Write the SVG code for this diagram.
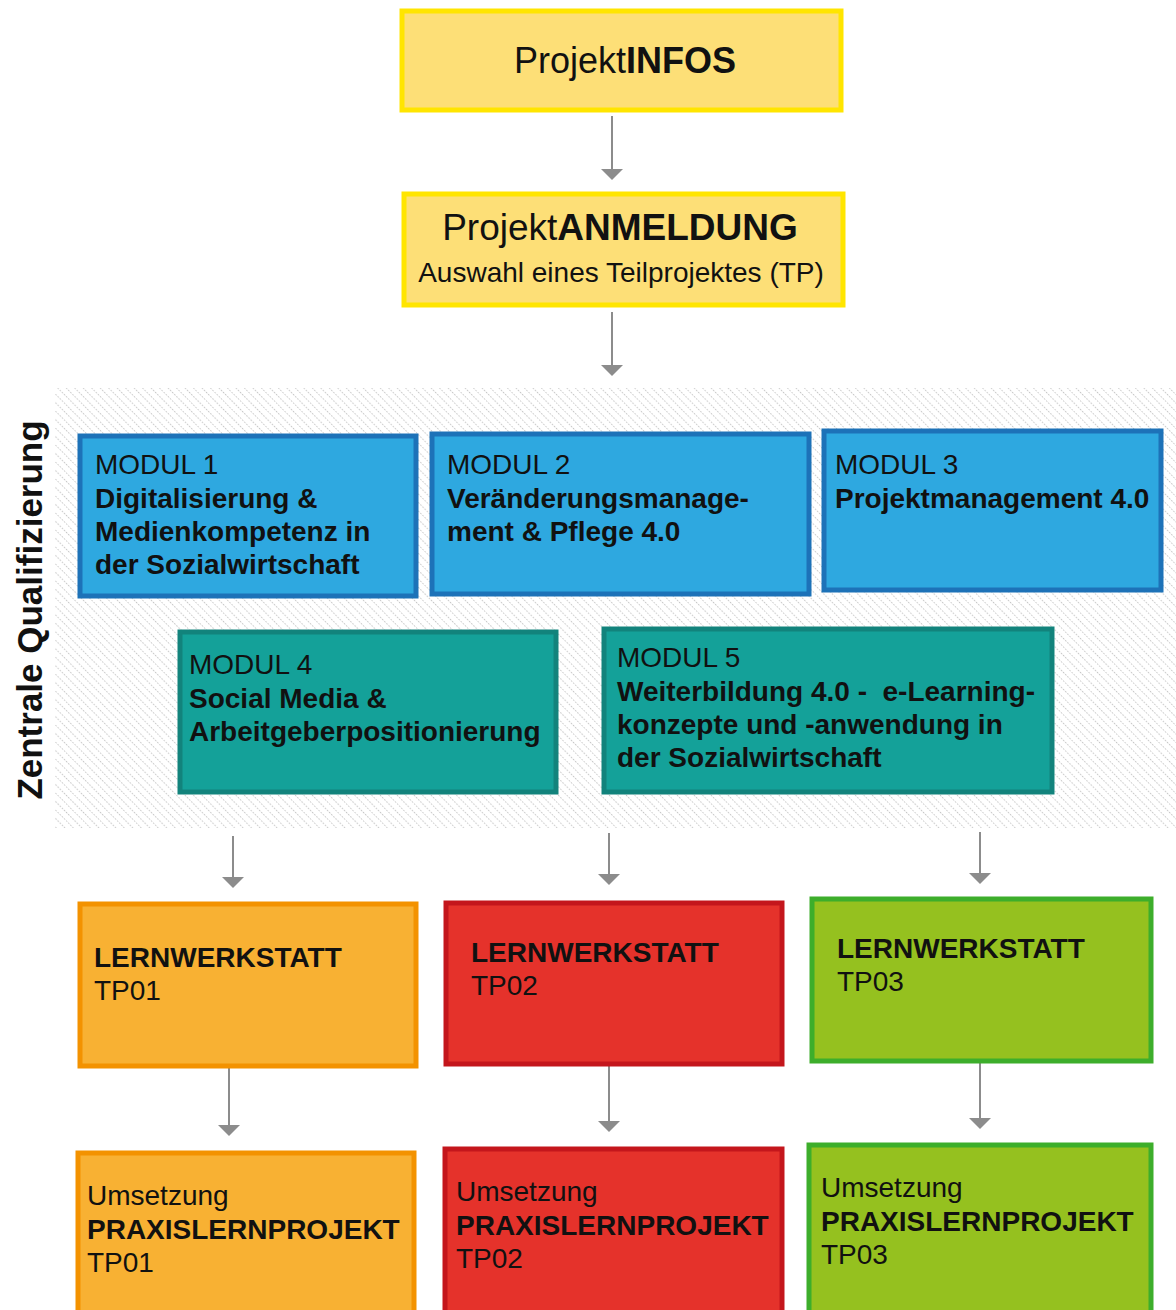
<svg xmlns="http://www.w3.org/2000/svg" width="1176" height="1310" viewBox="0 0 1176 1310">
<style>
text{font-family:"Liberation Sans",Arial,sans-serif;fill:#111}
.b{font-weight:bold}
.mod{font-size:28px}
.yel{fill:#FDDF77;stroke:#FFE500;stroke-width:5}
.blu{fill:#2EA8E0;stroke:#1D72B8;stroke-width:5}
.tea{fill:#14A199;stroke:#12837C;stroke-width:5}
.ora{fill:#F8B133;stroke:#F39200;stroke-width:5}
.red{fill:#E5322B;stroke:#C4161C;stroke-width:5}
.grn{fill:#95C11F;stroke:#3DAE2B;stroke-width:5}
.con{stroke:#8C8C8C;stroke-width:2;fill:none}
.head{fill:#8C8C8C}
</style>
<defs>
<pattern id="hatch" width="6" height="6" patternUnits="userSpaceOnUse" patternTransform="rotate(-45)">
<line x1="0" y1="0" x2="0" y2="6" stroke="#a8a8a8" stroke-width="1.3" stroke-dasharray="1.5 1.5"/>
</pattern>
</defs>
<rect x="0" y="0" width="1176" height="1310" fill="#fff"/>
<rect id="hatch-area" x="55" y="388" width="1121" height="440" fill="url(#hatch)"/>
<text class="b" transform="translate(42,610) rotate(-90)" text-anchor="middle" font-size="35">Zentrale Qualifizierung</text>

<g id="connectors">
<line class="con" x1="612" y1="116" x2="612" y2="171"/>
<path class="head" d="M601,169 L623,169 L612,180 Z"/>
<line class="con" x1="612" y1="312" x2="612" y2="367"/>
<path class="head" d="M601,365 L623,365 L612,376 Z"/>
<line class="con" x1="233" y1="836" x2="233" y2="879"/>
<path class="head" d="M222,877 L244,877 L233,888 Z"/>
<line class="con" x1="609" y1="833" x2="609" y2="876"/>
<path class="head" d="M598,874 L620,874 L609,885 Z"/>
<line class="con" x1="980" y1="832" x2="980" y2="875"/>
<path class="head" d="M969,873 L991,873 L980,884 Z"/>
<line class="con" x1="229" y1="1068" x2="229" y2="1127"/>
<path class="head" d="M218,1125 L240,1125 L229,1136 Z"/>
<line class="con" x1="609" y1="1066" x2="609" y2="1123"/>
<path class="head" d="M598,1121 L620,1121 L609,1132 Z"/>
<line class="con" x1="980" y1="1063" x2="980" y2="1120"/>
<path class="head" d="M969,1118 L991,1118 L980,1129 Z"/>
</g>

<g id="projektinfos">
<rect class="yel" x="402" y="11" width="439" height="99"/>
<text x="625" y="73" text-anchor="middle" font-size="36">Projekt<tspan class="b">INFOS</tspan></text>
</g>
<g id="projektanmeldung">
<rect class="yel" x="404" y="194" width="439" height="111"/>
<text x="620" y="240" text-anchor="middle" font-size="37">Projekt<tspan class="b">ANMELDUNG</tspan></text>
<text x="621" y="282" text-anchor="middle" font-size="28">Auswahl eines Teilprojektes (TP)</text>
</g>

<g id="modul1">
<rect class="blu" x="80" y="436" width="336" height="160"/>
<text class="mod" x="95" y="474">MODUL 1</text>
<text class="mod b" x="95" y="508">Digitalisierung &amp;</text>
<text class="mod b" x="95" y="541">Medienkompetenz in</text>
<text class="mod b" x="95" y="574">der Sozialwirtschaft</text>
</g>
<g id="modul2">
<rect class="blu" x="432" y="434" width="377" height="160"/>
<text class="mod" x="447" y="474">MODUL 2</text>
<text class="mod b" x="447" y="508">Veränderungsmanage-</text>
<text class="mod b" x="447" y="541">ment &amp; Pflege 4.0</text>
</g>
<g id="modul3">
<rect class="blu" x="824" y="431" width="337" height="159"/>
<text class="mod" x="835" y="474">MODUL 3</text>
<text class="mod b" x="835" y="508">Projektmanagement 4.0</text>
</g>
<g id="modul4">
<rect class="tea" x="180" y="632" width="376" height="160"/>
<text class="mod" x="189" y="674">MODUL 4</text>
<text class="mod b" x="189" y="708">Social Media &amp;</text>
<text class="mod b" x="189" y="741">Arbeitgeberpositionierung</text>
</g>
<g id="modul5">
<rect class="tea" x="604" y="629" width="448" height="163"/>
<text class="mod" x="617" y="667">MODUL 5</text>
<text class="mod b" x="617" y="701" xml:space="preserve">Weiterbildung 4.0 -  e-Learning-</text>
<text class="mod b" x="617" y="734">konzepte und -anwendung in</text>
<text class="mod b" x="617" y="767">der Sozialwirtschaft</text>
</g>

<g id="lw-tp01">
<rect class="ora" x="80" y="904" width="336" height="162"/>
<text class="mod b" x="94" y="967">LERNWERKSTATT</text>
<text class="mod" x="94" y="1000">TP01</text>
</g>
<g id="lw-tp02">
<rect class="red" x="446" y="903" width="336" height="161"/>
<text class="mod b" x="471" y="962">LERNWERKSTATT</text>
<text class="mod" x="471" y="995">TP02</text>
</g>
<g id="lw-tp03">
<rect class="grn" x="812" y="899" width="339" height="162"/>
<text class="mod b" x="837" y="958">LERNWERKSTATT</text>
<text class="mod" x="837" y="991">TP03</text>
</g>

<g id="pr-tp01">
<rect class="ora" x="78" y="1153" width="336" height="162"/>
<text class="mod" x="87" y="1205">Umsetzung</text>
<text class="mod b" x="87" y="1239">PRAXISLERNPROJEKT</text>
<text class="mod" x="87" y="1272">TP01</text>
</g>
<g id="pr-tp02">
<rect class="red" x="445" y="1149" width="337" height="166"/>
<text class="mod" x="456" y="1201">Umsetzung</text>
<text class="mod b" x="456" y="1235">PRAXISLERNPROJEKT</text>
<text class="mod" x="456" y="1268">TP02</text>
</g>
<g id="pr-tp03">
<rect class="grn" x="809" y="1145" width="342" height="170"/>
<text class="mod" x="821" y="1197">Umsetzung</text>
<text class="mod b" x="821" y="1231">PRAXISLERNPROJEKT</text>
<text class="mod" x="821" y="1264">TP03</text>
</g>
</svg>
